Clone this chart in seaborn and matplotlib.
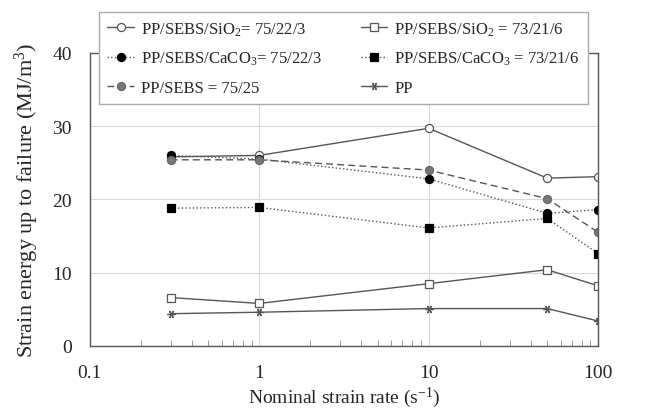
import matplotlib
matplotlib.use("Agg")
import matplotlib.pyplot as plt
import seaborn as sns
import numpy as np

# data
rates = [0.3, 1, 10, 50, 100]
sio2_75 = [25.8, 26.0, 29.7, 22.9, 23.1]
sio2_73 = [6.6, 5.8, 8.5, 10.4, 8.2]
caco3_75 = [26.0, 25.5, 22.8, 18.1, 18.6]
caco3_73 = [18.8, 18.9, 16.1, 17.4, 12.6]
sebs_75 = [25.4, 25.4, 24.0, 20.1, 15.5]
pp = [4.4, 4.6, 5.1, 5.1, 3.4]

sns.set_style("white")
plt.rcParams["font.family"] = ["Liberation Serif", "DejaVu Serif"]
plt.rcParams["mathtext.fontset"] = "custom"
plt.rcParams["mathtext.rm"] = "Liberation Serif"
plt.rcParams["mathtext.default"] = "rm"

fig = plt.figure(figsize=(6.46, 4.14), dpi=100)
ax = fig.add_axes([0.139, 0.162, 0.787, 0.708])

line_c = "#555555"
common = dict(color=line_c, linewidth=1.0, markersize=5.8, markeredgewidth=0.9)

series = [
    ("PP/SEBS/SiO$_2$= 75/22/3", sio2_75, "-", "o", "white", line_c),
    ("PP/SEBS/SiO$_2$ = 73/21/6", sio2_73, "-", "s", "white", line_c),
    ("PP/SEBS/CaCO$_3$= 75/22/3", caco3_75, ":", "o", "black", "black"),
    ("PP/SEBS/CaCO$_3$ = 73/21/6", caco3_73, ":", "s", "black", "black"),
    ("PP/SEBS = 75/25", sebs_75, (0, (5, 3)), "o", "#777777", "#666666"),
    ("PP", pp, "-", (6, 2, 90), "none", line_c),
]

handles = {}
for label, vals, ls, mk, fc, ec in series:
    sns.lineplot(x=rates, y=vals, ax=ax, linestyle=ls, marker=mk,
                 markerfacecolor=fc, markeredgecolor=ec, label=label, **common)
    handles[label] = ax.get_lines()[-1]

ax.set_xscale("log")
ax.set_xlim(0.1, 100)
ax.set_ylim(0, 40)
ax.set_yticks([0, 10, 20, 30, 40])
ax.set_xticks([0.1, 1, 10, 100])
ax.set_xticklabels(["0.1", "1", "10", "100"])
ax.grid(True, which="major", color="#d9d9d9", linewidth=0.8)
for s in ax.spines.values():
    s.set_color("#555555")
    s.set_linewidth(1.0)
ax.tick_params(axis="x", which="minor", direction="in", length=4, color="#888888", bottom=True)
ax.tick_params(axis="x", which="major", length=0, labelsize=14, pad=13)
ax.tick_params(axis="y", length=0, labelsize=14, pad=13)
ax.set_xlabel("Nominal strain rate (s$^{-1}$)", fontsize=14, labelpad=3)
ax.set_ylabel("Strain energy up to failure (MJ/m$^3$)", fontsize=16, labelpad=8)

order = [series[0][0], series[2][0], series[4][0], series[1][0], series[3][0], series[5][0]]
ax.legend([handles[k] for k in order], order, ncol=2, loc="upper left",
          bbox_to_anchor=(0.153, 0.746, 0.757, 0.223), bbox_transform=fig.transFigure,
          mode="expand", fontsize=12, frameon=True, fancybox=False, framealpha=1,
          edgecolor="#aaaaaa", handlelength=1.6, handletextpad=0.4,
          labelspacing=0.75, borderaxespad=0, columnspacing=1.0, borderpad=0.5)

fig.savefig("out.png", dpi=100)
